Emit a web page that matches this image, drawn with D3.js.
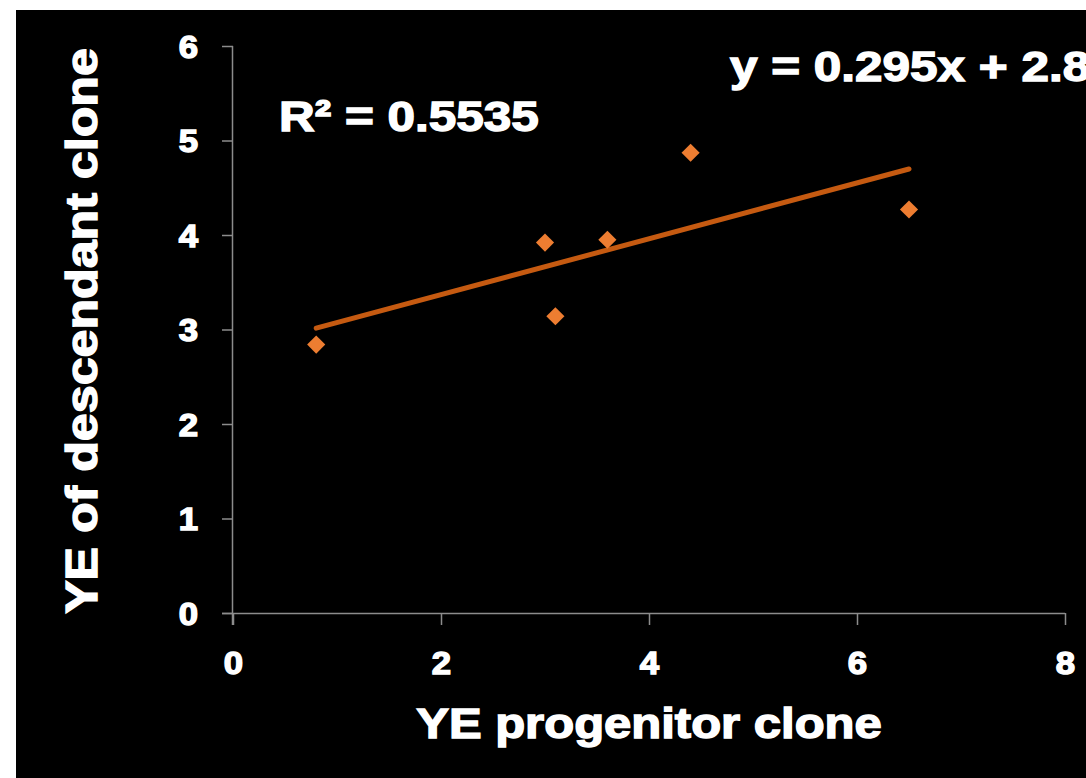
<!DOCTYPE html>
<html>
<head>
<meta charset="utf-8">
<script src="https://cdn.jsdelivr.net/npm/d3@7"></script>
<style>
  body { margin: 0; background: #fff; }
  text { font-family: "Liberation Sans", Arial, sans-serif; font-weight: bold; fill: #fff; }
  .heavy { stroke: #fff; stroke-width: 1.4px; paint-order: stroke; }
  .tick text.heavy { font-size: 31px; }
</style>
</head>
<body>
<svg id="chart" width="1086" height="778"></svg>
<script>
// values
const progenitor = [0.8, 3.0, 3.1, 3.6, 4.4, 6.5];
const descendant = [2.84, 3.92, 3.14, 3.95, 4.87, 4.27];
const xTicks = [0, 2, 4, 6, 8];
const yTicks = [0, 1, 2, 3, 4, 5, 6];
const eqLabel = "y = 0.295x + 2.8";
const r2Label = "R\u00B2 = 0.5535";

let width = 1086,
    height = 778;
let margin = { left: 233, top: 46, right: 21, bottom: 165 };

let svg = d3.select('#chart');

// black slide area
svg.append('rect')
    .attr('x', 16).attr('y', 10)
    .attr('width', width - 16).attr('height', height - 10)
    .attr('fill', '#000');

let xScale = d3.scaleLinear().domain([0, 8]).range([margin.left, width - margin.right]);
let yScale = d3.scaleLinear().domain([0, 6]).range([height - margin.bottom, margin.top]);

let axisColor = '#8c8c8c';

// x axis
let gx = svg.append('g')
    .attr('font-size', null)
    .attr('transform', `translate(0,${yScale(0)})`)
    .call(d3.axisBottom(xScale).tickValues(xTicks).tickSize(12).tickSizeOuter(0).tickFormat(d3.format('d')));
gx.attr('font-size', null).attr('font-family', null);
gx.select('.domain').attr('stroke', axisColor).attr('stroke-width', 1.5)
    .attr('d', `M${xScale(0) - 11},0.5H${xScale(8)}`);
gx.selectAll('.tick line').attr('stroke', axisColor).attr('stroke-width', 1.5);
gx.selectAll('.tick text')
    .attr('class', 'heavy')
    .attr('y', 0).attr('dy', 0)
    .attr('transform', 'translate(0,61) scale(1.12,1)');

// y axis
let gy = svg.append('g')
    .attr('transform', `translate(${xScale(0)},0)`)
    .call(d3.axisLeft(yScale).tickValues(yTicks).tickSize(11).tickSizeOuter(0).tickFormat(d3.format('d')));
gy.attr('font-size', null).attr('font-family', null);
gy.select('.domain').attr('stroke', axisColor).attr('stroke-width', 1.5)
    .attr('d', `M-0.5,${yScale(6)}V${yScale(0) + 12}`);
gy.selectAll('.tick line').attr('stroke', axisColor).attr('stroke-width', 1.5);
gy.selectAll('.tick text')
    .attr('class', 'heavy')
    .attr('x', 0).attr('dy', '0.36em')
    .attr('transform', 'translate(-35,0) scale(1.12,1)')
    .attr('text-anchor', 'end');
svg.selectAll('.tick text').attr('fill', '#fff');

// least squares trend line from the points
let mx = d3.mean(progenitor), my = d3.mean(descendant);
let sxy = d3.sum(progenitor, (d, i) => (d - mx) * (descendant[i] - my));
let sxx = d3.sum(progenitor, (d) => (d - mx) * (d - mx));
let slope = sxy / sxx, intercept = my - slope * mx;
let ext = d3.extent(progenitor);

svg.append('line')
    .attr('x1', xScale(ext[0])).attr('y1', yScale(slope * ext[0] + intercept))
    .attr('x2', xScale(ext[1])).attr('y2', yScale(slope * ext[1] + intercept))
    .attr('stroke', '#c55a11')
    .attr('stroke-width', 5)
    .attr('stroke-linecap', 'round');

// diamond markers
let diamond = d3.symbol().type(d3.symbolDiamond2).size(210);
svg.selectAll('path.pt')
    .data(progenitor)
    .enter()
    .append('path')
    .attr('class', 'pt')
    .attr('d', diamond)
    .attr('transform', (d, i) => `translate(${xScale(d)},${yScale(descendant[i])})`)
    .attr('fill', '#ed7d31');

// labels
svg.append('text')
    .attr('class', 'heavy')
    .attr('transform', 'translate(730,81) scale(1.15,1)')
    .style('font-size', '43px')
    .text(eqLabel);

svg.append('text')
    .attr('class', 'heavy')
    .attr('transform', 'translate(279,131) scale(1.15,1)')
    .style('font-size', '43px')
    .text(r2Label);

svg.append('text')
    .attr('class', 'heavy')
    .attr('text-anchor', 'middle')
    .attr('transform', 'translate(649,738) scale(1.14,1)')
    .style('font-size', '43px')
    .text('YE progenitor clone');

svg.append('text')
    .attr('class', 'heavy')
    .attr('text-anchor', 'middle')
    .attr('transform', 'translate(97,331) rotate(-90) scale(1.14,1)')
    .style('font-size', '44px')
    .text('YE of descendant clone');
</script>
</body>
</html>
